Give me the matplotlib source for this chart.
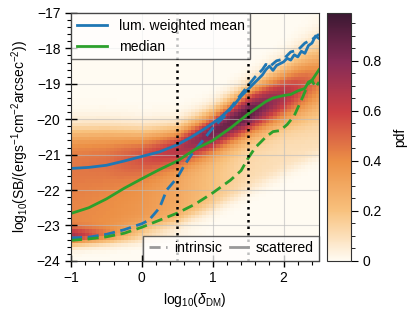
import numpy as np
import matplotlib
matplotlib.use("Agg")
import matplotlib.pyplot as plt
from matplotlib.colors import LinearSegmentedColormap
from matplotlib.lines import Line2D
from matplotlib.ticker import MultipleLocator

plt.rcParams['font.family'] = ['Liberation Sans', 'DejaVu Sans']
plt.rcParams['mathtext.fontset'] = 'custom'
plt.rcParams['mathtext.rm'] = 'Liberation Sans'
plt.rcParams['mathtext.it'] = 'Liberation Sans:italic'
plt.rcParams['font.size'] = 10

# ---- heatmap description ----
knot_x = [-1.0, -0.5, 0.0, 0.5, 1.0, 1.5, 2.0, 2.5]
ridge_center = [-21.2, -21.1, -21.0, -20.8, -20.35, -19.8, -19.3, -18.8]
ridge_sigma = [0.6, 0.55, 0.45, 0.38, 0.38, 0.42, 0.5, 0.65]
ridge_amp = [0.04, 0.08, 0.2, 0.4, 0.72, 0.85, 0.62, 0.35]
broad_lo = [-23.4, -23.3, -23.1, -22.9, -22.5, -22.0, -21.5, -21.0]
broad_hi = [-20.4, -20.4, -20.5, -20.5, -20.3, -19.8, -19.2, -18.5]
broad_amp = [0.42, 0.4, 0.37, 0.3, 0.2, 0.12, 0.1, 0.1]
floor_center = -23.3
floor_sigma = 0.15
floor_amp = [0.4, 0.2, 0.08, 0.02, 0.0, 0.0, 0.0, 0.0]

# ---- lines ----
mean_sc_x = [-1.0, -0.75, -0.5, -0.25, 0.0, 0.25, 0.5, 0.7, 0.9, 1.1, 1.3, 1.4, 1.5,
             1.6, 1.7, 1.75, 1.8, 1.85, 1.9, 2.0, 2.05, 2.1, 2.15, 2.2, 2.25, 2.3,
             2.35, 2.4, 2.45, 2.5]
mean_sc_y = [-21.39, -21.36, -21.3, -21.18, -21.05, -20.92, -20.72, -20.5, -20.25,
             -19.97, -19.6, -19.35, -19.15, -18.95, -18.75, -18.6, -18.5, -18.62,
             -18.48, -18.38, -18.28, -18.33, -18.18, -18.24, -18.08, -18.14, -17.92,
             -17.85, -17.65, -17.72]
mean_in_x = [-1.0, -0.75, -0.5, -0.25, 0.0, 0.1, 0.25, 0.35, 0.5, 0.6, 0.7, 0.8, 0.9,
             1.0, 1.1, 1.2, 1.3, 1.4, 1.5, 1.6, 1.7, 1.75, 1.8, 1.9, 2.0, 2.1, 2.2,
             2.3, 2.4, 2.5]
mean_in_y = [-23.35, -23.33, -23.25, -23.12, -22.95, -22.85, -22.5, -22.0, -21.65,
             -21.3, -21.0, -20.75, -20.5, -20.25, -20.05, -19.85, -19.55, -19.3,
             -19.05, -18.8, -18.6, -18.45, -18.52, -18.35, -18.3, -18.1, -18.05,
             -17.85, -17.75, -17.6]
med_sc_x = [-1.0, -0.75, -0.5, -0.25, 0.0, 0.25, 0.5, 0.75, 1.0, 1.25, 1.5, 1.75,
            1.85, 2.0, 2.1, 2.2, 2.3, 2.35, 2.4, 2.45, 2.5]
med_sc_y = [-22.66, -22.5, -22.25, -21.95, -21.68, -21.42, -21.18, -20.85, -20.6,
            -20.25, -19.85, -19.5, -19.4, -19.33, -19.3, -19.2, -19.13, -18.95,
            -18.9, -18.75, -18.6]
med_in_x = [-1.0, -0.75, -0.5, -0.25, 0.0, 0.25, 0.5, 0.75, 1.0, 1.25, 1.4, 1.5,
            1.6, 1.75, 1.85, 1.95, 2.05, 2.15, 2.25, 2.35, 2.4, 2.45, 2.5]
med_in_y = [-23.42, -23.38, -23.32, -23.22, -23.05, -22.85, -22.65, -22.4, -22.08,
            -21.72, -21.45, -21.1, -20.8, -20.5, -20.35, -20.32, -20.15, -19.9,
            -19.46, -19.0, -18.9, -19.1, -18.95]
vlines_x = [0.5, 1.5]

# ---- build the binned pdf ----
xe = np.linspace(-1, 2.5, 71)
ye = np.linspace(-24, -17, 71)
xc = 0.5 * (xe[1:] + xe[:-1])
yc = 0.5 * (ye[1:] + ye[:-1])
X, Y = np.meshgrid(xc, yc)


def at(arr):
    return np.interp(X, knot_x, arr)


def sig(t):
    return 1.0 / (1.0 + np.exp(-t))


H = at(ridge_amp) * np.exp(-0.5 * ((Y - at(ridge_center)) / at(ridge_sigma)) ** 2)
H += at(broad_amp) * sig((Y - at(broad_lo)) / 0.12) * sig((at(broad_hi) - Y) / 0.2)
H += at(floor_amp) * np.exp(-0.5 * ((Y - floor_center) / floor_sigma) ** 2)
H = np.clip(H, 0, 0.99)

cmap = LinearSegmentedColormap.from_list(
    "pdf", ["#fffbf2", "#f8c27e", "#ec9046", "#cb3f43", "#862b56", "#3b1832"])

fig = plt.figure(figsize=(4.08, 3.17), dpi=100)
ax = fig.add_axes([0.174, 0.177, 0.608, 0.782])
cax = fig.add_axes([0.801, 0.177, 0.059, 0.782])

mesh = ax.pcolormesh(xe, ye, H, cmap=cmap, vmin=0, vmax=0.99, rasterized=True)
ax.grid(True, color='#bbbbbb', lw=0.8, alpha=0.6)

blue = '#1f77b4'
green = '#2ca02c'
ax.plot(mean_sc_x, mean_sc_y, color=blue, lw=2)
ax.plot(mean_in_x, mean_in_y, color=blue, lw=2, ls=(0, (4, 2)))
ax.plot(med_sc_x, med_sc_y, color=green, lw=2)
ax.plot(med_in_x, med_in_y, color=green, lw=2, ls=(0, (4, 2)))
for xv in vlines_x:
    ax.axvline(xv, color='k', lw=1.8, ls=(0, (1, 1.6)))

ax.set_xlim(-1, 2.5)
ax.set_ylim(-24, -17)
ax.xaxis.set_major_locator(MultipleLocator(1))
ax.xaxis.set_minor_locator(MultipleLocator(0.2))
ax.yaxis.set_major_locator(MultipleLocator(1))
ax.yaxis.set_minor_locator(MultipleLocator(0.2))
ax.tick_params(which='major', direction='inout', length=8, width=1)
ax.tick_params(which='minor', direction='out', length=3, width=0.8)
for s in ax.spines.values():
    s.set_color('#333333')
ax.set_xlabel(r'log$_{10}$($\delta_{\rm DM}$)')
ax.set_ylabel(r'log$_{10}$(SB/(ergs$^{-1}$cm$^{-2}$arcsec$^{-2}$))')

h1 = [Line2D([], [], color=blue, lw=2), Line2D([], [], color=green, lw=2)]
leg1 = ax.legend(h1, ['lum. weighted mean', 'median'], loc='upper left',
                 borderaxespad=0, fancybox=False, edgecolor='#333333',
                 framealpha=0.75, handlelength=2.2, fontsize=10.1)
leg1.get_frame().set_linewidth(1)
ax.add_artist(leg1)
h2 = [Line2D([], [], color='#999999', lw=2, ls=(0, (4, 2))),
      Line2D([], [], color='#999999', lw=2)]
leg2 = ax.legend(h2, ['intrinsic', 'scattered'], loc='lower right', ncol=2,
                 borderaxespad=0, fancybox=False, edgecolor='#333333',
                 framealpha=0.75, handlelength=1.3, columnspacing=0.6,
                 handletextpad=0.5, fontsize=10.1)
leg2.get_frame().set_linewidth(1)

cb = fig.colorbar(mesh, cax=cax)
cb.set_ticks([0, 0.2, 0.4, 0.6, 0.8])
cb.set_ticklabels(['0', '0.2', '0.4', '0.6', '0.8'])
cb.ax.yaxis.set_minor_locator(MultipleLocator(0.05))
cb.ax.tick_params(which='major', direction='out', length=5)
cb.ax.tick_params(which='minor', direction='out', length=3)
cb.outline.set_edgecolor('#333333')
cb.set_label('pdf', labelpad=8)

fig.savefig('out.png', dpi=100)
